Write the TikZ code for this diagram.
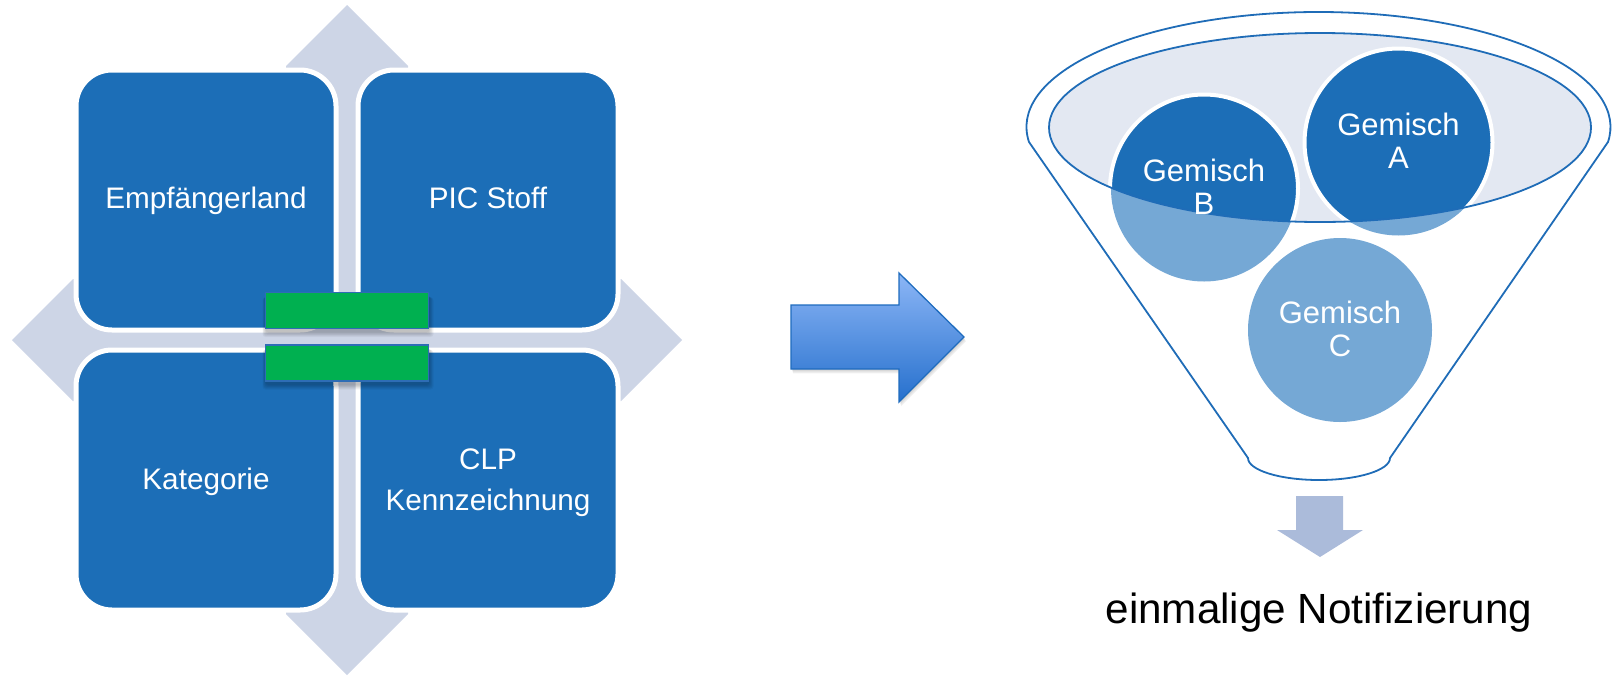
\documentclass[tikz,border=0pt]{standalone}
\usepackage{fontspec}
\setmainfont{Liberation Sans}
\definecolor{crossgrey}{RGB}{205,213,230}
\definecolor{tileblue}{RGB}{28,110,183}
\definecolor{barg}{RGB}{0,176,80}
\definecolor{barline}{RGB}{46,109,181}
\definecolor{funnelline}{RGB}{31,108,183}
\definecolor{bowl}{RGB}{227,232,242}
\definecolor{ballsoft}{RGB}{117,168,213}
\definecolor{downgrey}{RGB}{171,187,218}
\definecolor{arrtop}{RGB}{140,182,246}
\definecolor{arrbot}{RGB}{38,112,205}
\definecolor{arrline}{RGB}{31,108,190}
\begin{document}
\begin{tikzpicture}[x=1pt,y=-1pt,
  tile/.style={fill=tileblue, draw=white, line width=5pt, rounded corners=36pt,
    minimum width=260pt, minimum height=260pt},
  tiletext/.style={anchor=base, text=white, align=center, inner sep=0pt,
    font=\fontsize{29.7}{41.4}\selectfont},
  eqbar/.style={fill=barg, draw=barline, line width=1.6pt,
    minimum width=163pt, minimum height=36pt, inner sep=0pt},
  ball/.style={text=white, align=center, font=\fontsize{31}{33}\selectfont},
  funnel/.style={draw=funnelline, line width=1.8pt}]
\useasboundingbox (0,0) rectangle (1612,678);

% four-way arrow behind the tiles
\fill[crossgrey] (347,5) -- (408,66) -- (408,279) -- (621,279) -- (682,340)
  -- (621,401) -- (408,401) -- (408,614) -- (347,675) -- (286,614)
  -- (286,401) -- (73,401) -- (12,340) -- (73,279) -- (286,279) -- (286,66) -- cycle;

% the four criteria tiles
\node[tile] (land) at (206,200) {};
\node[tile] (pic)  at (488,200) {};
\node[tile] (kat)  at (206,480) {};
\node[tile] (clp)  at (488,480) {};
\node[tiletext] (landtxt) at (206,208.5) {Empfängerland};
\node[tiletext] (pictxt)  at (488,208.5) {PIC Stoff};
\node[tiletext] (kattxt)  at (206,489.5) {Kategorie};
\node[tiletext] (clptxt)  at (488,469.3) {CLP};
\node[tiletext] (kenntxt) at (488,510.7) {Kennzeichnung};

% equals sign with soft shadow
\foreach \cy in {310.5,363}{
  \foreach \k in {0,...,5}{
    \fill[black, opacity=0.045, rounded corners=3pt]
      (265.5-\k*0.6, \cy-15+\k*0.4) rectangle (429.5+\k*0.8, \cy+22+\k*0.9);
  }
}
\node[eqbar] (eqtop) at (347,310.5) {};
\node[eqbar] (eqbot) at (347,363) {};

% block arrow pointing to the funnel
\foreach \k in {1,...,4}{
  \fill[black, opacity=0.05, shift={(\k*0.5pt,-\k*1.1pt)}]
    (791,305) -- (899,305) -- (899,273) -- (964,337) -- (899,402) -- (899,369) -- (791,369) -- cycle;
}
\path[draw=arrline, line width=1.3pt, top color=arrtop, bottom color=arrbot]
  (791,305) -- (899,305) -- (899,273) -- (964,337) -- (899,402) -- (899,369) -- (791,369) -- cycle;

% funnel body
\draw[funnel] (1029,142) arc[start angle=172.5, end angle=367.5, x radius=292, y radius=115]
  -- (1390,458) arc[start angle=0, end angle=180, x radius=71, y radius=22] -- cycle;
\fill[bowl] (1320,127.5) ellipse[x radius=271, y radius=94.5];

% mixtures: pale outside the funnel mouth, dark inside it
\fill[ballsoft] (1398.5,142.5) circle[radius=93];
\fill[ballsoft] (1204,188.5) circle[radius=93];
\fill[ballsoft] (1340,330) circle[radius=92];
\begin{scope}
  \clip (1320,127.5) ellipse[x radius=271, y radius=94.5];
  \draw[fill=tileblue, draw=white, line width=4pt] (1398.5,142.5) circle[radius=94];
  \draw[fill=tileblue, draw=white, line width=4pt] (1204,188.5) circle[radius=94];
\end{scope}
\draw[funnel] (1320,127.5) ellipse[x radius=271, y radius=94.5];

\node[ball] (gA) at (1398.5,141) {Gemisch\\A};
\node[ball] (gB) at (1204,187) {Gemisch\\B};
\node[ball] (gC) at (1340,329) {Gemisch\\C};

% outcome
\fill[downgrey] (1296,496) -- (1343,496) -- (1343,530) -- (1363,530) -- (1320,557)
  -- (1277,530) -- (1296,530) -- cycle;
\node[anchor=base, font=\fontsize{42.2}{50}\selectfont] (result) at (1319,623) {einmalige Notifizierung};
\end{tikzpicture}
\end{document}
